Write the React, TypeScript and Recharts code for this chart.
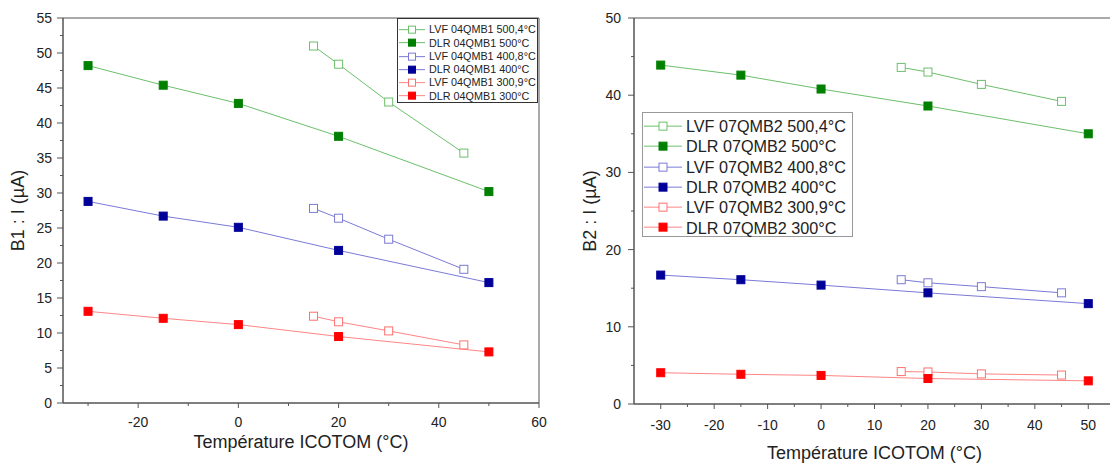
import { LineChart, Line, XAxis, YAxis, ReferenceArea, Legend } from 'recharts'

// Températures de mesure (°C)
const TEMP_DLR = [-30, -15, 0, 20, 50]
const TEMP_LVF = [15, 20, 30, 45]

// B1 (04QMB1) — courant en µA
const B1_LVF_500 = [51.0, 48.4, 43.0, 35.7]
const B1_DLR_500 = [48.2, 45.4, 42.8, 38.1, 30.2]
const B1_LVF_400 = [27.8, 26.4, 23.4, 19.1]
const B1_DLR_400 = [28.8, 26.7, 25.1, 21.8, 17.2]
const B1_LVF_300 = [12.4, 11.6, 10.3, 8.3]
const B1_DLR_300 = [13.1, 12.1, 11.2, 9.5, 7.3]

// B2 (07QMB2) — courant en µA
const B2_LVF_500 = [43.6, 43.0, 41.4, 39.2]
const B2_DLR_500 = [43.9, 42.6, 40.8, 38.6, 35.0]
const B2_LVF_400 = [16.1, 15.7, 15.2, 14.4]
const B2_DLR_400 = [16.7, 16.1, 15.4, 14.4, 13.0]
const B2_LVF_300 = [4.2, 4.15, 3.9, 3.75]
const B2_DLR_300 = [4.05, 3.85, 3.7, 3.3, 3.0]

const B1_NAMES = [
  'LVF 04QMB1 500,4°C',
  'DLR 04QMB1 500°C',
  'LVF 04QMB1 400,8°C',
  'DLR 04QMB1 400°C',
  'LVF 04QMB1 300,9°C',
  'DLR 04QMB1 300°C',
]
const B2_NAMES = [
  'LVF 07QMB2 500,4°C',
  'DLR 07QMB2 500°C',
  'LVF 07QMB2 400,8°C',
  'DLR 07QMB2 400°C',
  'LVF 07QMB2 300,9°C',
  'DLR 07QMB2 300°C',
]

// Graduations
const B1_X_TICKS = [-30, -20, -10, 0, 10, 20, 30, 40, 50, 60]
const B1_X_MAJOR = [-20, 0, 20, 40, 60]
const B1_Y_TICKS = [0, 2.5, 5, 7.5, 10, 12.5, 15, 17.5, 20, 22.5, 25, 27.5, 30, 32.5, 35, 37.5, 40, 42.5, 45, 47.5, 50, 52.5, 55]
const B1_Y_MAJOR = [0, 5, 10, 15, 20, 25, 30, 35, 40, 45, 50, 55]
const B2_X_TICKS = [-30, -25, -20, -15, -10, -5, 0, 5, 10, 15, 20, 25, 30, 35, 40, 45, 50, 55]
const B2_X_MAJOR = [-30, -20, -10, 0, 10, 20, 30, 40, 50]
const B2_Y_TICKS = [0, 5, 10, 15, 20, 25, 30, 35, 40, 45, 50]
const B2_Y_MAJOR = [0, 10, 20, 30, 40, 50]

// Styles des séries (même ordre que la légende)
const STYLES = [
  { hollow: true, line: '#6cbf6c', mark: '#6cbf6c' },
  { hollow: false, line: '#6cbf6c', mark: '#008000' },
  { hollow: true, line: '#7a7ad6', mark: '#7a7ad6' },
  { hollow: false, line: '#7a7ad6', mark: '#000099' },
  { hollow: true, line: '#ff8585', mark: '#ff7070' },
  { hollow: false, line: '#ff8585', mark: '#ff0000' },
]

const AXIS = '#555'
const TXT = '#222'

type Pt = { x: number; y: number }
type Serie = { name: string; data: Pt[]; hollow: boolean; line: string; mark: string }

const pts = (xs: number[], ys: number[]): Pt[] => xs.map((x, i) => ({ x, y: ys[i] }))

function buildSeries(names: string[], values: number[][]): Serie[] {
  return names.map((name, i) => ({
    name,
    data: pts(i % 2 === 0 ? TEMP_LVF : TEMP_DLR, values[i]),
    ...STYLES[i],
  }))
}

const B1_SERIES = buildSeries(B1_NAMES, [B1_LVF_500, B1_DLR_500, B1_LVF_400, B1_DLR_400, B1_LVF_300, B1_DLR_300])
const B2_SERIES = buildSeries(B2_NAMES, [B2_LVF_500, B2_DLR_500, B2_LVF_400, B2_DLR_400, B2_LVF_300, B2_DLR_300])

// ─── Ticks avec graduations mineures ─────────────────────────────────────────

const makeXTick = (majors: number[], labelDy: number) => (props: any) => {
  const { x, y, payload } = props
  const major = majors.includes(payload.value)
  return (
    <g>
      <line x1={x} x2={x} y1={y} y2={y + (major ? 5 : 3)} stroke={AXIS} />
      {major && (
        <text x={x} y={y + labelDy} textAnchor="middle" fontSize={14} fill={TXT}>
          {payload.value}
        </text>
      )}
    </g>
  )
}

const makeYTick = (majors: number[], labelDx: number) => (props: any) => {
  const { x, y, payload } = props
  const major = majors.includes(payload.value)
  return (
    <g>
      <line x1={x} x2={x - (major ? 6 : 3)} y1={y} y2={y} stroke={AXIS} />
      {major && (
        <text x={x - labelDx} y={y + 5} textAnchor="end" fontSize={14} fill={TXT}>
          {payload.value}
        </text>
      )}
    </g>
  )
}

const squareDot = (s: Serie, size: number) => (props: any) => {
  const { cx, cy, index } = props
  if (cx == null || cy == null) return <g key={`${s.name}-${index}`} />
  const h = size / 2
  return (
    <rect
      key={`${s.name}-${index}`}
      x={cx - h}
      y={cy - h}
      width={size}
      height={size}
      fill={s.hollow ? '#fff' : s.mark}
      stroke={s.mark}
      strokeWidth={1}
    />
  )
}

// ─── Légende ─────────────────────────────────────────────────────────────────

type LegendCfg = {
  left: number
  top: number
  width: number
  height: number
  rowH: number
  pad: number
  font: number
  sampleW: number
  gap: number
  mark: number
  border: string
}

const renderLegend = (series: Serie[], c: LegendCfg) => () => (
  <div
    style={{
      width: c.width,
      height: c.height,
      boxSizing: 'border-box',
      border: `1px solid ${c.border}`,
      background: '#fff',
      paddingTop: c.pad,
    }}
  >
    {series.map(s => (
      <div key={s.name} style={{ display: 'flex', alignItems: 'center', height: c.rowH }}>
        <svg width={c.sampleW} height={c.rowH} style={{ display: 'block', flex: 'none' }}>
          <line x1={1} x2={c.sampleW - 1} y1={c.rowH / 2} y2={c.rowH / 2} stroke={s.line} />
          <rect
            x={c.sampleW / 2 - c.mark / 2}
            y={c.rowH / 2 - c.mark / 2}
            width={c.mark}
            height={c.mark}
            fill={s.hollow ? '#fff' : s.mark}
            stroke={s.mark}
          />
        </svg>
        <span style={{ fontSize: c.font, color: TXT, marginLeft: c.gap, whiteSpace: 'nowrap', lineHeight: 1 }}>
          {s.name}
        </span>
      </div>
    ))}
  </div>
)

// ─── Panneau ─────────────────────────────────────────────────────────────────

type PanelProps = {
  series: Serie[]
  xDomain: [number, number]
  xTicks: number[]
  xMajor: number[]
  yDomain: [number, number]
  yTicks: number[]
  yMajor: number[]
  yTitle: string
  margin: { top: number; right: number; bottom: number; left: number }
  yWidth: number
  xHeight: number
  xLabelDy: number
  yLabelDx: number
  xTitleOffset: number
  yTitleOffset: number
  legend: LegendCfg
}

function Panel(p: PanelProps) {
  return (
    <LineChart width={560} height={465} margin={p.margin}>
      <XAxis
        dataKey="x"
        type="number"
        domain={p.xDomain}
        ticks={p.xTicks}
        interval={0}
        allowDataOverflow
        tickSize={0}
        tickMargin={0}
        tickLine={false}
        axisLine={{ stroke: AXIS }}
        height={p.xHeight}
        tick={makeXTick(p.xMajor, p.xLabelDy)}
        label={{
          value: 'Température ICOTOM (°C)',
          position: 'insideBottom',
          offset: p.xTitleOffset,
          fontSize: 18,
          fill: TXT,
        }}
      />
      <YAxis
        dataKey="y"
        type="number"
        domain={p.yDomain}
        ticks={p.yTicks}
        interval={0}
        allowDataOverflow
        tickSize={0}
        tickMargin={0}
        tickLine={false}
        axisLine={{ stroke: AXIS }}
        width={p.yWidth}
        tick={makeYTick(p.yMajor, p.yLabelDx)}
        label={{
          value: p.yTitle,
          angle: -90,
          position: 'insideLeft',
          offset: p.yTitleOffset,
          fontSize: 18,
          fill: TXT,
          style: { textAnchor: 'middle' },
        }}
      />
      <ReferenceArea
        x1={p.xDomain[0]}
        x2={p.xDomain[1]}
        y1={p.yDomain[0]}
        y2={p.yDomain[1]}
        fill="none"
        fillOpacity={0}
        stroke={AXIS}
        strokeWidth={1}
      />
      {p.series.map(s => (
        <Line
          key={s.name}
          data={s.data}
          dataKey="y"
          name={s.name}
          stroke={s.line}
          strokeWidth={1}
          dot={squareDot(s, 8)}
          activeDot={false}
          isAnimationActive={false}
        />
      ))}
      <Legend
        layout="vertical"
        align="center"
        verticalAlign="middle"
        content={renderLegend(p.series, p.legend)}
        wrapperStyle={{
          left: p.legend.left,
          top: p.legend.top,
          width: p.legend.width,
          height: p.legend.height,
        }}
      />
    </LineChart>
  )
}

export default function App() {
  return (
    <div
      style={{
        position: 'absolute',
        left: 0,
        top: 0,
        width: 1110,
        height: 465,
        overflow: 'hidden',
        background: '#fff',
        fontFamily: '"Liberation Sans", Arial, sans-serif',
      }}
    >
      <div style={{ position: 'absolute', left: 0, top: 0 }}>
        <Panel
          series={B1_SERIES}
          xDomain={[-35, 60]}
          xTicks={B1_X_TICKS}
          xMajor={B1_X_MAJOR}
          yDomain={[0, 55]}
          yTicks={B1_Y_TICKS}
          yMajor={B1_Y_MAJOR}
          yTitle="B1 : I (µA)"
          margin={{ top: 18, right: 21, bottom: 0, left: 0 }}
          yWidth={63}
          xHeight={62}
          xLabelDy={24}
          yLabelDx={11}
          xTitleOffset={17}
          yTitleOffset={18}
          legend={{
            left: 397,
            top: 18,
            width: 141,
            height: 85,
            rowH: 13.3,
            pad: 4,
            font: 10.8,
            sampleW: 28,
            gap: 3,
            mark: 7,
            border: '#333',
          }}
        />
      </div>
      <div style={{ position: 'absolute', left: 560, top: 0 }}>
        <Panel
          series={B2_SERIES}
          xDomain={[-35, 55]}
          xTicks={B2_X_TICKS}
          xMajor={B2_X_MAJOR}
          yDomain={[0, 50]}
          yTicks={B2_Y_TICKS}
          yMajor={B2_Y_MAJOR}
          yTitle="B2 : I (µA)"
          margin={{ top: 18, right: 5, bottom: 0, left: 0 }}
          yWidth={74}
          xHeight={61}
          xLabelDy={26}
          yLabelDx={13}
          xTitleOffset={6}
          yTitleOffset={30}
          legend={{
            left: 82,
            top: 112,
            width: 211,
            height: 125,
            rowH: 20.3,
            pad: 3,
            font: 16.2,
            sampleW: 40,
            gap: 3,
            mark: 8,
            border: '#999',
          }}
        />
      </div>
    </div>
  )
}
